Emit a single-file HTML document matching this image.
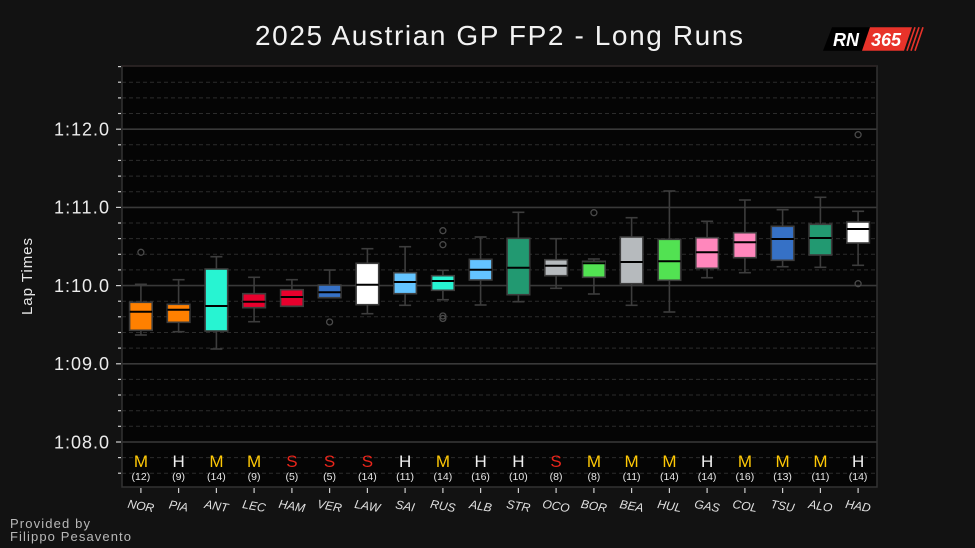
<!DOCTYPE html>
<html>
<head>
<meta charset="utf-8">
<style>
html,body{margin:0;padding:0;background:#121212;}
svg{display:block;}
text{font-family:"Liberation Sans",sans-serif;}
.box{stroke:#3d3d3d;stroke-width:1.6;}
.wh{stroke:#3d3d3d;stroke-width:1.6;}
.med{stroke:#000;stroke-width:2;}
.fl{fill:none;stroke:#4a4a4a;stroke-width:1.3;}
.dash{stroke:#2c2c2c;stroke-width:1;stroke-dasharray:4,3;}
.maj{stroke:#393939;stroke-width:1.6;}
.yt{fill:#ececec;font-size:18px;text-anchor:end;}
.cmp{font-size:17px;text-anchor:middle;}
.cnt{fill:#e6e6e6;font-size:10.5px;text-anchor:middle;}
.xl{fill:#e0e0e0;font-size:12px;font-style:italic;text-anchor:middle;}
</style>
</head>
<body>
<svg width="975" height="548" viewBox="0 0 975 548" xmlns="http://www.w3.org/2000/svg">
<rect width="975" height="548" fill="#121212"/>
<!-- plot area -->
<rect x="122" y="66" width="755" height="421" fill="#050505"/>

<!-- minor dashed grid -->
<g class="dash">
<line x1="122" x2="877" y1="82.2" y2="82.2"/>
<line x1="122" x2="877" y1="97.9" y2="97.9"/>
<line x1="122" x2="877" y1="113.5" y2="113.5"/>
<line x1="122" x2="877" y1="144.8" y2="144.8"/>
<line x1="122" x2="877" y1="160.4" y2="160.4"/>
<line x1="122" x2="877" y1="176.1" y2="176.1"/>
<line x1="122" x2="877" y1="191.7" y2="191.7"/>
<line x1="122" x2="877" y1="223.0" y2="223.0"/>
<line x1="122" x2="877" y1="238.6" y2="238.6"/>
<line x1="122" x2="877" y1="254.3" y2="254.3"/>
<line x1="122" x2="877" y1="269.9" y2="269.9"/>
<line x1="122" x2="877" y1="301.2" y2="301.2"/>
<line x1="122" x2="877" y1="316.8" y2="316.8"/>
<line x1="122" x2="877" y1="332.5" y2="332.5"/>
<line x1="122" x2="877" y1="348.1" y2="348.1"/>
<line x1="122" x2="877" y1="379.4" y2="379.4"/>
<line x1="122" x2="877" y1="395.0" y2="395.0"/>
<line x1="122" x2="877" y1="410.7" y2="410.7"/>
<line x1="122" x2="877" y1="426.3" y2="426.3"/>
<line x1="122" x2="877" y1="457.6" y2="457.6"/>
<line x1="122" x2="877" y1="473.2" y2="473.2"/>
</g>
<!-- major grid -->
<g class="maj">
<line x1="122" x2="877" y1="129.2" y2="129.2"/>
<line x1="122" x2="877" y1="207.4" y2="207.4"/>
<line x1="122" x2="877" y1="285.6" y2="285.6"/>
<line x1="122" x2="877" y1="363.8" y2="363.8"/>
<line x1="122" x2="877" y1="442" y2="442"/>
</g>

<!-- spines -->
<rect x="122" y="66" width="755" height="421" fill="none" stroke="#333" stroke-width="1.5"/>
<line x1="122" x2="877" y1="66" y2="66" stroke="#2a2222" stroke-width="1.5"/>

<!-- y ticks -->
<g stroke="#cfcfcf" stroke-width="1.2">
<line x1="118" x2="121" y1="66.6" y2="66.6"/>
<line x1="118" x2="121" y1="82.2" y2="82.2"/>
<line x1="118" x2="121" y1="97.9" y2="97.9"/>
<line x1="118" x2="121" y1="113.5" y2="113.5"/>
<line x1="116" x2="121" y1="129.2" y2="129.2"/>
<line x1="118" x2="121" y1="144.8" y2="144.8"/>
<line x1="118" x2="121" y1="160.4" y2="160.4"/>
<line x1="118" x2="121" y1="176.1" y2="176.1"/>
<line x1="118" x2="121" y1="191.7" y2="191.7"/>
<line x1="116" x2="121" y1="207.4" y2="207.4"/>
<line x1="118" x2="121" y1="223.0" y2="223.0"/>
<line x1="118" x2="121" y1="238.6" y2="238.6"/>
<line x1="118" x2="121" y1="254.3" y2="254.3"/>
<line x1="118" x2="121" y1="269.9" y2="269.9"/>
<line x1="116" x2="121" y1="285.6" y2="285.6"/>
<line x1="118" x2="121" y1="301.2" y2="301.2"/>
<line x1="118" x2="121" y1="316.8" y2="316.8"/>
<line x1="118" x2="121" y1="332.5" y2="332.5"/>
<line x1="118" x2="121" y1="348.1" y2="348.1"/>
<line x1="116" x2="121" y1="363.8" y2="363.8"/>
<line x1="118" x2="121" y1="379.4" y2="379.4"/>
<line x1="118" x2="121" y1="395.0" y2="395.0"/>
<line x1="118" x2="121" y1="410.7" y2="410.7"/>
<line x1="118" x2="121" y1="426.3" y2="426.3"/>
<line x1="116" x2="121" y1="442" y2="442"/>
<line x1="118" x2="121" y1="457.6" y2="457.6"/>
<line x1="118" x2="121" y1="473.2" y2="473.2"/>
</g>
<text class="yt" x="109" y="135.5" textLength="55">1:12.0</text>
<text class="yt" x="109" y="213.7" textLength="55">1:11.0</text>
<text class="yt" x="109" y="291.9" textLength="55">1:10.0</text>
<text class="yt" x="109" y="370.1" textLength="55">1:09.0</text>
<text class="yt" x="109" y="448.3" textLength="55">1:08.0</text>

<text x="32" y="276.5" fill="#e6e6e6" font-size="15" text-anchor="middle" textLength="77" transform="rotate(-90 32 276.5)">Lap Times</text>

<!-- title -->
<text x="499" y="45" fill="#f2f2f2" font-size="28" text-anchor="middle" textLength="488">2025 Austrian GP FP2 - Long Runs</text>

<!-- logo -->
<polygon points="832,27.3 870,27.3 862,50.7 823,50.7" fill="#000"/>
<polygon points="870,27.3 912,27.3 904,50.7 862,50.7" fill="#e8332a"/>
<g stroke="#e8332a" stroke-width="1.6">
<line x1="915" y1="27.3" x2="907" y2="50.7"/>
<line x1="919" y1="27.3" x2="911" y2="50.7"/>
<line x1="923" y1="27.3" x2="915" y2="50.7"/>
</g>
<text x="846" y="46" fill="#fff" font-size="18" font-weight="bold" font-style="italic" text-anchor="middle">RN</text>
<text x="886" y="46" fill="#fff" font-size="18" font-weight="bold" font-style="italic" text-anchor="middle">365</text>

<!-- boxes -->
<!-- NOR -->
<g>
<line class="wh" x1="140.9" x2="140.9" y1="284.3" y2="302.3"/><line class="wh" x1="140.9" x2="140.9" y1="330.3" y2="335"/>
<line class="wh" x1="134.9" x2="146.9" y1="284.3" y2="284.3"/><line class="wh" x1="134.9" x2="146.9" y1="335" y2="335"/>
<rect class="box" x="129.6" y="302.3" width="22.6" height="28" fill="#ff8000"/>
<line class="med" x1="129.6" x2="152.2" y1="311.7" y2="311.7"/>
<circle class="fl" cx="140.9" cy="252.3" r="3"/>
</g>
<!-- PIA -->
<g>
<line class="wh" x1="178.6" x2="178.6" y1="279.7" y2="304.3"/><line class="wh" x1="178.6" x2="178.6" y1="322.3" y2="331.7"/>
<line class="wh" x1="172.6" x2="184.6" y1="279.7" y2="279.7"/><line class="wh" x1="172.6" x2="184.6" y1="331.7" y2="331.7"/>
<rect class="box" x="167.3" y="304.3" width="22.6" height="18" fill="#ff8000"/>
<line class="med" x1="167.3" x2="189.9" y1="309.7" y2="309.7"/>
</g>
<!-- ANT -->
<g>
<line class="wh" x1="216.4" x2="216.4" y1="256.7" y2="269"/><line class="wh" x1="216.4" x2="216.4" y1="331" y2="349"/>
<line class="wh" x1="210.4" x2="222.4" y1="256.7" y2="256.7"/><line class="wh" x1="210.4" x2="222.4" y1="349" y2="349"/>
<rect class="box" x="205.1" y="269" width="22.6" height="62" fill="#27f4d2"/>
<line class="med" x1="205.1" x2="227.7" y1="306" y2="306"/>
</g>
<!-- LEC -->
<g>
<line class="wh" x1="254.1" x2="254.1" y1="277.3" y2="293.7"/><line class="wh" x1="254.1" x2="254.1" y1="307.7" y2="321.7"/>
<line class="wh" x1="248.1" x2="260.1" y1="277.3" y2="277.3"/><line class="wh" x1="248.1" x2="260.1" y1="321.7" y2="321.7"/>
<rect class="box" x="242.8" y="293.7" width="22.6" height="14" fill="#e8002d"/>
<line class="med" x1="242.8" x2="265.4" y1="301.7" y2="301.7"/>
</g>
<!-- HAM -->
<g>
<line class="wh" x1="291.9" x2="291.9" y1="279.7" y2="289.7"/>
<line class="wh" x1="285.9" x2="297.9" y1="279.7" y2="279.7"/><line class="wh" x1="285.9" x2="297.9" y1="306.3" y2="306.3"/>
<rect class="box" x="280.6" y="289.7" width="22.6" height="16.6" fill="#e8002d"/>
<line class="med" x1="280.6" x2="303.2" y1="297" y2="297"/>
</g>
<!-- VER -->
<g>
<line class="wh" x1="329.6" x2="329.6" y1="270" y2="285"/>
<line class="wh" x1="323.6" x2="335.6" y1="270" y2="270"/><line class="wh" x1="323.6" x2="335.6" y1="297.7" y2="297.7"/>
<rect class="box" x="318.3" y="285" width="22.6" height="12.7" fill="#3671c6"/>
<line class="med" x1="318.3" x2="340.9" y1="292.3" y2="292.3"/>
<circle class="fl" cx="329.6" cy="322" r="3"/>
</g>
<!-- LAW -->
<g>
<line class="wh" x1="367.4" x2="367.4" y1="248.7" y2="263.3"/><line class="wh" x1="367.4" x2="367.4" y1="304.7" y2="313.7"/>
<line class="wh" x1="361.4" x2="373.4" y1="248.7" y2="248.7"/><line class="wh" x1="361.4" x2="373.4" y1="313.7" y2="313.7"/>
<rect class="box" x="356.1" y="263.3" width="22.6" height="41.4" fill="#ffffff"/>
<line class="med" x1="356.1" x2="378.7" y1="284.7" y2="284.7"/>
</g>
<!-- SAI -->
<g>
<line class="wh" x1="405.1" x2="405.1" y1="246.7" y2="272.7"/><line class="wh" x1="405.1" x2="405.1" y1="293.7" y2="305.3"/>
<line class="wh" x1="399.1" x2="411.1" y1="246.7" y2="246.7"/><line class="wh" x1="399.1" x2="411.1" y1="305.3" y2="305.3"/>
<rect class="box" x="393.8" y="272.7" width="22.6" height="21" fill="#64c4ff"/>
<line class="med" x1="393.8" x2="416.4" y1="282" y2="282"/>
</g>
<!-- RUS -->
<g>
<line class="wh" x1="442.9" x2="442.9" y1="270.3" y2="275.7"/><line class="wh" x1="442.9" x2="442.9" y1="290.3" y2="299.7"/>
<line class="wh" x1="436.9" x2="448.9" y1="270.3" y2="270.3"/><line class="wh" x1="436.9" x2="448.9" y1="299.7" y2="299.7"/>
<rect class="box" x="431.6" y="275.7" width="22.6" height="14.6" fill="#27f4d2"/>
<line class="med" x1="431.6" x2="454.2" y1="281" y2="281"/>
<circle class="fl" cx="442.9" cy="230.7" r="3"/>
<circle class="fl" cx="442.9" cy="244.7" r="3"/>
<circle class="fl" cx="442.9" cy="316" r="3"/>
<circle class="fl" cx="442.9" cy="318.5" r="3"/>
</g>
<!-- ALB -->
<g>
<line class="wh" x1="480.6" x2="480.6" y1="237" y2="259.3"/><line class="wh" x1="480.6" x2="480.6" y1="280" y2="305"/>
<line class="wh" x1="474.6" x2="486.6" y1="237" y2="237"/><line class="wh" x1="474.6" x2="486.6" y1="305" y2="305"/>
<rect class="box" x="469.3" y="259.3" width="22.6" height="20.7" fill="#64c4ff"/>
<line class="med" x1="469.3" x2="491.9" y1="269.7" y2="269.7"/>
</g>
<!-- STR -->
<g>
<line class="wh" x1="518.4" x2="518.4" y1="212.3" y2="238.3"/><line class="wh" x1="518.4" x2="518.4" y1="294.7" y2="301.7"/>
<line class="wh" x1="512.4" x2="524.4" y1="212.3" y2="212.3"/><line class="wh" x1="512.4" x2="524.4" y1="301.7" y2="301.7"/>
<rect class="box" x="507.1" y="238.3" width="22.6" height="56.4" fill="#229971"/>
<line class="med" x1="507.1" x2="529.7" y1="267.7" y2="267.7"/>
</g>
<!-- OCO -->
<g>
<line class="wh" x1="556.1" x2="556.1" y1="238.7" y2="259.7"/><line class="wh" x1="556.1" x2="556.1" y1="275.7" y2="288.3"/>
<line class="wh" x1="550.1" x2="562.1" y1="238.7" y2="238.7"/><line class="wh" x1="550.1" x2="562.1" y1="288.3" y2="288.3"/>
<rect class="box" x="544.8" y="259.7" width="22.6" height="16" fill="#b6babd"/>
<line class="med" x1="544.8" x2="567.4" y1="265.7" y2="265.7"/>
</g>
<!-- BOR -->
<g>
<line class="wh" x1="593.9" x2="593.9" y1="259" y2="261.3"/><line class="wh" x1="593.9" x2="593.9" y1="277.3" y2="294"/>
<line class="wh" x1="587.9" x2="599.9" y1="259" y2="259"/><line class="wh" x1="587.9" x2="599.9" y1="294" y2="294"/>
<rect class="box" x="582.6" y="261.3" width="22.6" height="16" fill="#52e252"/>
<line class="med" x1="582.6" x2="605.2" y1="263.3" y2="263.3"/>
<circle class="fl" cx="593.9" cy="212.7" r="3"/>
</g>
<!-- BEA -->
<g>
<line class="wh" x1="631.6" x2="631.6" y1="217.7" y2="237"/><line class="wh" x1="631.6" x2="631.6" y1="283.7" y2="305.3"/>
<line class="wh" x1="625.6" x2="637.6" y1="217.7" y2="217.7"/><line class="wh" x1="625.6" x2="637.6" y1="305.3" y2="305.3"/>
<rect class="box" x="620.3" y="237" width="22.6" height="46.7" fill="#b6babd"/>
<line class="med" x1="620.3" x2="642.9" y1="262" y2="262"/>
</g>
<!-- HUL -->
<g>
<line class="wh" x1="669.4" x2="669.4" y1="191" y2="239.3"/><line class="wh" x1="669.4" x2="669.4" y1="280.3" y2="312"/>
<line class="wh" x1="663.4" x2="675.4" y1="191" y2="191"/><line class="wh" x1="663.4" x2="675.4" y1="312" y2="312"/>
<rect class="box" x="658.1" y="239.3" width="22.6" height="41" fill="#52e252"/>
<line class="med" x1="658.1" x2="680.7" y1="261.3" y2="261.3"/>
</g>
<!-- GAS -->
<g>
<line class="wh" x1="707.1" x2="707.1" y1="221.3" y2="237.7"/><line class="wh" x1="707.1" x2="707.1" y1="268.3" y2="277.7"/>
<line class="wh" x1="701.1" x2="713.1" y1="221.3" y2="221.3"/><line class="wh" x1="701.1" x2="713.1" y1="277.7" y2="277.7"/>
<rect class="box" x="695.8" y="237.7" width="22.6" height="30.6" fill="#ff87bc"/>
<line class="med" x1="695.8" x2="718.4" y1="252.3" y2="252.3"/>
</g>
<!-- COL -->
<g>
<line class="wh" x1="744.9" x2="744.9" y1="200" y2="232.7"/><line class="wh" x1="744.9" x2="744.9" y1="257.7" y2="272.7"/>
<line class="wh" x1="738.9" x2="750.9" y1="200" y2="200"/><line class="wh" x1="738.9" x2="750.9" y1="272.7" y2="272.7"/>
<rect class="box" x="733.6" y="232.7" width="22.6" height="25" fill="#ff87bc"/>
<line class="med" x1="733.6" x2="756.2" y1="242.3" y2="242.3"/>
</g>
<!-- TSU -->
<g>
<line class="wh" x1="782.6" x2="782.6" y1="209.7" y2="226.3"/><line class="wh" x1="782.6" x2="782.6" y1="260.3" y2="266.7"/>
<line class="wh" x1="776.6" x2="788.6" y1="209.7" y2="209.7"/><line class="wh" x1="776.6" x2="788.6" y1="266.7" y2="266.7"/>
<rect class="box" x="771.3" y="226.3" width="22.6" height="34" fill="#3671c6"/>
<line class="med" x1="771.3" x2="793.9" y1="239" y2="239"/>
</g>
<!-- ALO -->
<g>
<line class="wh" x1="820.4" x2="820.4" y1="197.3" y2="224.3"/><line class="wh" x1="820.4" x2="820.4" y1="255" y2="267.3"/>
<line class="wh" x1="814.4" x2="826.4" y1="197.3" y2="197.3"/><line class="wh" x1="814.4" x2="826.4" y1="267.3" y2="267.3"/>
<rect class="box" x="809.1" y="224.3" width="22.6" height="30.7" fill="#229971"/>
<line class="med" x1="809.1" x2="831.7" y1="238" y2="238"/>
</g>
<!-- HAD -->
<g>
<line class="wh" x1="858.1" x2="858.1" y1="211.3" y2="222"/><line class="wh" x1="858.1" x2="858.1" y1="243" y2="265.3"/>
<line class="wh" x1="852.1" x2="864.1" y1="211.3" y2="211.3"/><line class="wh" x1="852.1" x2="864.1" y1="265.3" y2="265.3"/>
<rect class="box" x="846.8" y="222" width="22.6" height="21" fill="#ffffff"/>
<line class="med" x1="846.8" x2="869.4" y1="229" y2="229"/>
<circle class="fl" cx="858.1" cy="134.7" r="3"/>
<circle class="fl" cx="858.1" cy="283.7" r="3"/>
</g>

<!-- compound letters -->
<g class="cmp">
<text x="140.9" y="467" fill="#ffc906" textLength="18">M</text>
<text x="178.6" y="467" fill="#f0f0f0" textLength="13">H</text>
<text x="216.4" y="467" fill="#ffc906" textLength="18">M</text>
<text x="254.1" y="467" fill="#ffc906" textLength="18">M</text>
<text x="291.9" y="467" fill="#e8251b" textLength="12">S</text>
<text x="329.6" y="467" fill="#e8251b" textLength="12">S</text>
<text x="367.4" y="467" fill="#e8251b" textLength="12">S</text>
<text x="405.1" y="467" fill="#f0f0f0" textLength="13">H</text>
<text x="442.9" y="467" fill="#ffc906" textLength="18">M</text>
<text x="480.6" y="467" fill="#f0f0f0" textLength="13">H</text>
<text x="518.4" y="467" fill="#f0f0f0" textLength="13">H</text>
<text x="556.1" y="467" fill="#e8251b" textLength="12">S</text>
<text x="593.9" y="467" fill="#ffc906" textLength="18">M</text>
<text x="631.6" y="467" fill="#ffc906" textLength="18">M</text>
<text x="669.4" y="467" fill="#ffc906" textLength="18">M</text>
<text x="707.1" y="467" fill="#f0f0f0" textLength="13">H</text>
<text x="744.9" y="467" fill="#ffc906" textLength="18">M</text>
<text x="782.6" y="467" fill="#ffc906" textLength="18">M</text>
<text x="820.4" y="467" fill="#ffc906" textLength="18">M</text>
<text x="858.1" y="467" fill="#f0f0f0" textLength="13">H</text>
</g>
<g class="cnt">
<text x="140.9" y="480">(12)</text>
<text x="178.6" y="480">(9)</text>
<text x="216.4" y="480">(14)</text>
<text x="254.1" y="480">(9)</text>
<text x="291.9" y="480">(5)</text>
<text x="329.6" y="480">(5)</text>
<text x="367.4" y="480">(14)</text>
<text x="405.1" y="480">(11)</text>
<text x="442.9" y="480">(14)</text>
<text x="480.6" y="480">(16)</text>
<text x="518.4" y="480">(10)</text>
<text x="556.1" y="480">(8)</text>
<text x="593.9" y="480">(8)</text>
<text x="631.6" y="480">(11)</text>
<text x="669.4" y="480">(14)</text>
<text x="707.1" y="480">(14)</text>
<text x="744.9" y="480">(16)</text>
<text x="782.6" y="480">(13)</text>
<text x="820.4" y="480">(11)</text>
<text x="858.1" y="480">(14)</text>
</g>

<!-- x ticks -->
<g stroke="#cfcfcf" stroke-width="1.2">
<line x1="140.9" x2="140.9" y1="488" y2="493"/>
<line x1="178.6" x2="178.6" y1="488" y2="493"/>
<line x1="216.4" x2="216.4" y1="488" y2="493"/>
<line x1="254.1" x2="254.1" y1="488" y2="493"/>
<line x1="291.9" x2="291.9" y1="488" y2="493"/>
<line x1="329.6" x2="329.6" y1="488" y2="493"/>
<line x1="367.4" x2="367.4" y1="488" y2="493"/>
<line x1="405.1" x2="405.1" y1="488" y2="493"/>
<line x1="442.9" x2="442.9" y1="488" y2="493"/>
<line x1="480.6" x2="480.6" y1="488" y2="493"/>
<line x1="518.4" x2="518.4" y1="488" y2="493"/>
<line x1="556.1" x2="556.1" y1="488" y2="493"/>
<line x1="593.9" x2="593.9" y1="488" y2="493"/>
<line x1="631.6" x2="631.6" y1="488" y2="493"/>
<line x1="669.4" x2="669.4" y1="488" y2="493"/>
<line x1="707.1" x2="707.1" y1="488" y2="493"/>
<line x1="744.9" x2="744.9" y1="488" y2="493"/>
<line x1="782.6" x2="782.6" y1="488" y2="493"/>
<line x1="820.4" x2="820.4" y1="488" y2="493"/>
<line x1="858.1" x2="858.1" y1="488" y2="493"/>
</g>
<g class="xl">
<text x="140.9" y="510" transform="rotate(10 140.9 506)">NOR</text>
<text x="178.6" y="510" transform="rotate(10 178.6 506)">PIA</text>
<text x="216.4" y="510" transform="rotate(10 216.4 506)">ANT</text>
<text x="254.1" y="510" transform="rotate(10 254.1 506)">LEC</text>
<text x="291.9" y="510" transform="rotate(10 291.9 506)">HAM</text>
<text x="329.6" y="510" transform="rotate(10 329.6 506)">VER</text>
<text x="367.4" y="510" transform="rotate(10 367.4 506)">LAW</text>
<text x="405.1" y="510" transform="rotate(10 405.1 506)">SAI</text>
<text x="442.9" y="510" transform="rotate(10 442.9 506)">RUS</text>
<text x="480.6" y="510" transform="rotate(10 480.6 506)">ALB</text>
<text x="518.4" y="510" transform="rotate(10 518.4 506)">STR</text>
<text x="556.1" y="510" transform="rotate(10 556.1 506)">OCO</text>
<text x="593.9" y="510" transform="rotate(10 593.9 506)">BOR</text>
<text x="631.6" y="510" transform="rotate(10 631.6 506)">BEA</text>
<text x="669.4" y="510" transform="rotate(10 669.4 506)">HUL</text>
<text x="707.1" y="510" transform="rotate(10 707.1 506)">GAS</text>
<text x="744.9" y="510" transform="rotate(10 744.9 506)">COL</text>
<text x="782.6" y="510" transform="rotate(10 782.6 506)">TSU</text>
<text x="820.4" y="510" transform="rotate(10 820.4 506)">ALO</text>
<text x="858.1" y="510" transform="rotate(10 858.1 506)">HAD</text>
</g>

<!-- footer -->
<text x="10" y="528" fill="#b8b8b8" font-size="13" textLength="80">Provided by</text>
<text x="10" y="541" fill="#b8b8b8" font-size="13" textLength="121">Filippo Pesavento</text>
</svg>
</body>
</html>
